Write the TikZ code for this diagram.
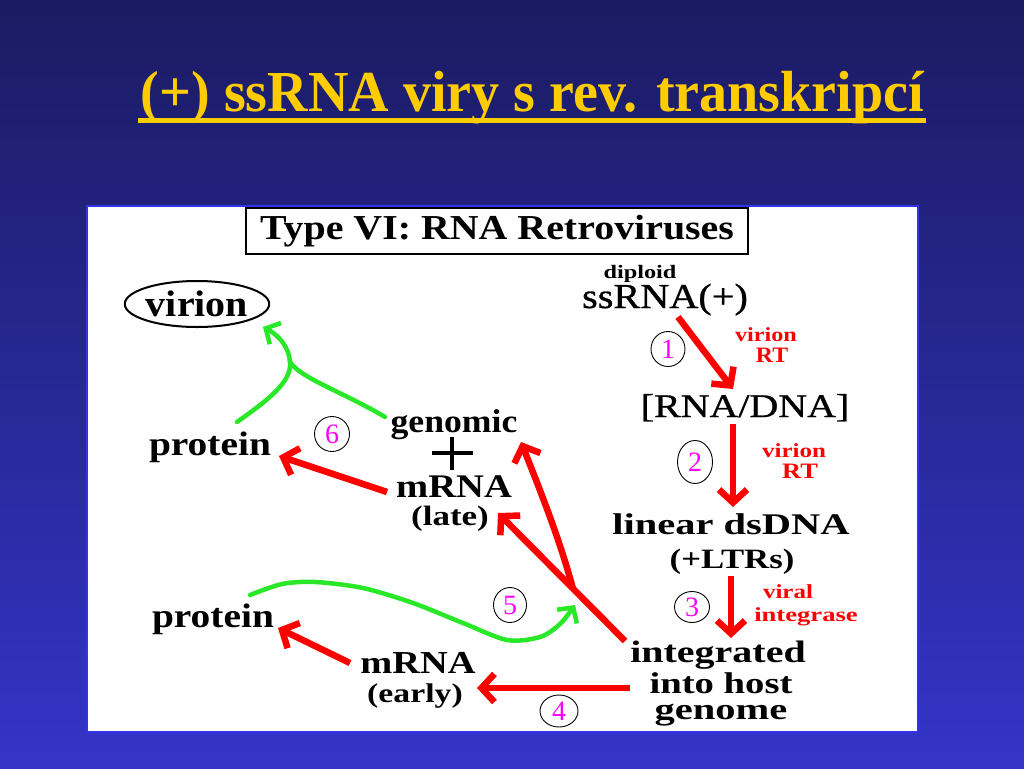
\documentclass[tikz,border=0pt]{standalone}
\usepackage{fontspec}
\setmainfont{Liberation Serif}
\newfontfamily\semifont{Liberation Serif}[FakeBold=0.8]
\usetikzlibrary{arrows.meta,shapes.geometric}
\definecolor{bgtop}{RGB}{27,27,98}
\definecolor{bgbot}{RGB}{52,52,200}
\definecolor{ttl}{RGB}{255,204,0}
\definecolor{grn}{RGB}{40,232,40}
\definecolor{mag}{RGB}{255,0,255}
\definecolor{rd}{RGB}{255,0,0}
\definecolor{panelb}{RGB}{50,50,235}
\newcommand\mytx[3]{{\fontsize{#1}{#1}\selectfont\scalebox{#2}[1]{#3}}}
\tikzset{
  lbl/.style={anchor=base, inner sep=0pt, font=\bfseries},
  reg/.style={anchor=base, inner sep=0pt, font=\semifont},
  redlbl/.style={lbl, text=rd},
  num/.style={ellipse, draw=black, line width=0.9pt, inner sep=0pt, text=mag},
  redarr/.style={draw=rd, line width=6.5pt, -{Straight Barb[length=13pt,width=28pt]}},
  grnline/.style={draw=grn, line width=4.5pt, line cap=round},
  grnarr/.style={grnline, -{Straight Barb[length=11pt,width=24pt]}}
}
\begin{document}
\begin{tikzpicture}[x=1pt,y=-1pt]
\useasboundingbox (0,0) rectangle (1024,768);
\shade[top color=bgtop, bottom color=bgbot] (0,0) rectangle (1024,768);
% title
\node[anchor=base west, inner sep=0pt, text=ttl, font=\bfseries] (title) at (140.5,111.7)
  {\mytx{58}{0.967}{(+) ssRNA viry s rev. transkripcí}};
\draw[ttl, line width=5pt] (138,120) -- (926,120);
% panel
\fill[white] (87,206) rectangle (918,732);
\draw[panelb, line width=2pt] (87,206) rectangle (918,732);
% header box
\node[draw, line width=2pt, minimum width=502pt, minimum height=46pt, inner sep=0pt, font=\bfseries]
  (typevi) at (497,231) {\mytx{35}{1.14}{Type VI: RNA Retroviruses}};
% virion
\node[ellipse, draw, line width=2pt, minimum width=132pt, minimum height=46pt, inner sep=0pt, font=\bfseries]
  (virion) at (197,304) {\mytx{37}{1.08}{virion}};
% labels
\node[lbl] (protU) at (210,455) {\mytx{34}{1.16}{protein}};
\node[lbl] (genomic) at (454,432) {\mytx{33}{1.08}{genomic}};
\node[lbl] (mrnaL) at (454,497) {\mytx{33}{1.17}{mRNA}};
\node[lbl] (late) at (450,525) {\mytx{28}{1.25}{(late)}};
\node[lbl] (protL) at (213,627) {\mytx{34}{1.16}{protein}};
\node[lbl] (mrnaE) at (418,673) {\mytx{32}{1.2}{mRNA}};
\node[lbl] (early) at (415,702) {\mytx{27}{1.25}{(early)}};
\node[lbl] (diploid) at (640,278) {\mytx{19}{1.28}{diploid}};
\node[reg] (ssrna) at (665,308) {\mytx{35}{1.15}{ssRNA(+)}};
\node[redlbl] (v1) at (766,341) {\mytx{20}{1.21}{virion}};
\node[redlbl] (rt1) at (772,362) {\mytx{22}{1.08}{RT}};
\node[reg] (rnadna) at (745,417) {\mytx{33}{1.21}{[RNA/DNA]}};
\node[redlbl] (v2) at (794,457) {\mytx{20}{1.25}{virion}};
\node[redlbl] (rt2) at (800,478) {\mytx{22}{1.2}{RT}};
\node[lbl] (linear) at (731,534) {\mytx{30}{1.35}{linear dsDNA}};
\node[lbl] (ltrs) at (732,568) {\mytx{28}{1.24}{(+LTRs)}};
\node[redlbl] (viral) at (788,598) {\mytx{20}{1.25}{viral}};
\node[redlbl] (integrase) at (806,621) {\mytx{20}{1.33}{integrase}};
\node[lbl] (integ) at (718,662) {\mytx{31}{1.29}{integrated}};
\node[lbl] (into) at (721,693) {\mytx{30}{1.29}{into host}};
\node[lbl] (genome) at (721,719) {\mytx{30}{1.35}{genome}};
% numbers
\node[num, minimum width=34pt, minimum height=35pt] (n1) at (668,349) {\mytx{28}{1}{1}};
\node[num, minimum width=35pt, minimum height=43pt] (n2) at (695,462) {\mytx{28}{1}{2}};
\node[num, minimum width=35pt, minimum height=31pt] (n3) at (692,607) {\mytx{28}{1}{3}};
\node[num, minimum width=38pt, minimum height=32pt] (n4) at (559,711) {\mytx{28}{1}{4}};
\node[num, minimum width=33pt, minimum height=35pt] (n5) at (510,605) {\mytx{28}{1}{5}};
\node[num, minimum width=35pt, minimum height=35pt] (n6) at (332,434) {\mytx{28}{1}{6}};
% plus
\draw[line width=4pt] (432,453) -- (473,453);
\draw[line width=4pt] (452,437) -- (452,470);
% arrow end points
\coordinate (a1s) at (678,317);  \coordinate (a1e) at (733,389);
\coordinate (a2s) at (733,424);  \coordinate (a2e) at (733,507);
\coordinate (a3s) at (731,576);  \coordinate (a3e) at (731,638);
\coordinate (a4s) at (630,688);  \coordinate (a4e) at (477,688);
\coordinate (aEs) at (350,663);  \coordinate (aEe) at (278,628);
\coordinate (aLs) at (387,492);  \coordinate (aLe) at (279,456);
\coordinate (aMs) at (625,641);  \coordinate (aMe) at (498,513);
\coordinate (br) at (573,589);   \coordinate (aGe) at (521,442);
\coordinate (gP) at (237,422);  \coordinate (gJ) at (290,362);
\coordinate (gG) at (385,417);  \coordinate (gV) at (263,327);
% red arrows
\draw[redarr] (a1s) -- (a1e);
\draw[redarr] (a2s) -- (a2e);
\draw[redarr] (a3s) -- (a3e);
\draw[redarr] (a4s) -- (a4e);
\draw[redarr] (aEs) -- (aEe);
\draw[redarr] (aLs) -- (aLe);
\draw[redarr] (aMs) -- (aMe);
\draw[redarr] (br) .. controls (560,540) and (540,490) .. (aGe);
% green
\draw[grnline] (gP) .. controls (268,400) and (292,382) .. (gJ);
\draw[grnline] (gG) .. controls (345,393) and (300,378) .. (gJ);
\draw[grnarr] (gJ) .. controls (289,348) and (280,336) .. (gV);
\draw[grnarr] plot[smooth] coordinates {(250,595) (282,584) (315,582) (363,588) (413,603) (463,623) (507,640) (540,637) (560,624) (575,605)};
\end{tikzpicture}
\end{document}
